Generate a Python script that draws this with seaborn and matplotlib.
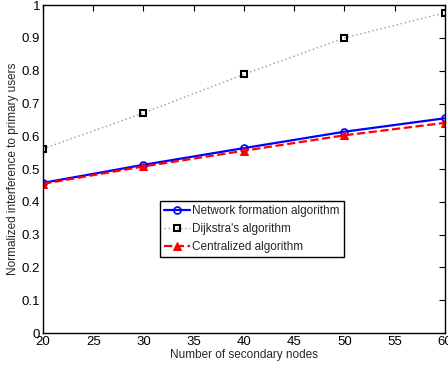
import numpy as np
import pandas as pd
import matplotlib
matplotlib.use("Agg")
import matplotlib.pyplot as plt
import seaborn as sns

# data
nodes = [20, 30, 40, 50, 60]
network_formation = [0.458, 0.513, 0.564, 0.614, 0.655]
dijkstra = [0.562, 0.671, 0.789, 0.900, 0.977]
centralized = [0.455, 0.508, 0.556, 0.603, 0.641]

sns.set_style("white")
plt.rcParams['font.family'] = ['Liberation Sans', 'DejaVu Sans']

fig = plt.figure(figsize=(4.48, 3.70), dpi=100)
ax = fig.add_axes([0.096, 0.100, 0.897, 0.886])

sns.lineplot(x=nodes, y=network_formation, ax=ax, color='#0000ff', lw=1.6,
             marker='o', markersize=5, markerfacecolor='none', markeredgecolor='#0000ff',
             markeredgewidth=1.2, label='Network formation algorithm')
sns.lineplot(x=nodes, y=dijkstra, ax=ax, color='#999999', lw=1.0, linestyle=(0, (1, 2)),
             marker='s', markersize=4.5, markerfacecolor='none', markeredgecolor='black',
             markeredgewidth=1.5, label="Dijkstra's algorithm")
sns.lineplot(x=nodes, y=centralized, ax=ax, color='#ff0000', lw=1.6, linestyle='--',
             marker='^', markersize=6, markerfacecolor='#ff0000', markeredgecolor='#ff0000',
             label='Centralized algorithm')

ax.set_xlim(20, 60)
ax.set_ylim(0, 1)
ax.set_xticks(np.arange(20, 61, 5))
ax.set_yticks(np.arange(0, 1.01, 0.1))
ax.set_yticklabels(['0', '0.1', '0.2', '0.3', '0.4', '0.5', '0.6', '0.7', '0.8', '0.9', '1'])
ax.tick_params(direction='in', top=True, right=True, length=4, width=0.8,
               labelsize=9.5, pad=2, colors='black')
for s in ax.spines.values():
    s.set_color('black')
    s.set_linewidth(1.0)

ax.set_xlabel('Number of secondary nodes', fontsize=8.5, labelpad=1)
ax.set_ylabel('Normalized interference to primary users', fontsize=8.5, labelpad=2)

leg = ax.legend(loc='upper left', bbox_to_anchor=(0.291, 0.402), fontsize=8.5,
                frameon=True, fancybox=False, edgecolor='black', framealpha=1,
                handlelength=2.2, borderpad=0.35, labelspacing=0.5, handletextpad=0.2,
                borderaxespad=0)
leg.get_frame().set_linewidth(1.0)

fig.savefig('out.png', dpi=100)
